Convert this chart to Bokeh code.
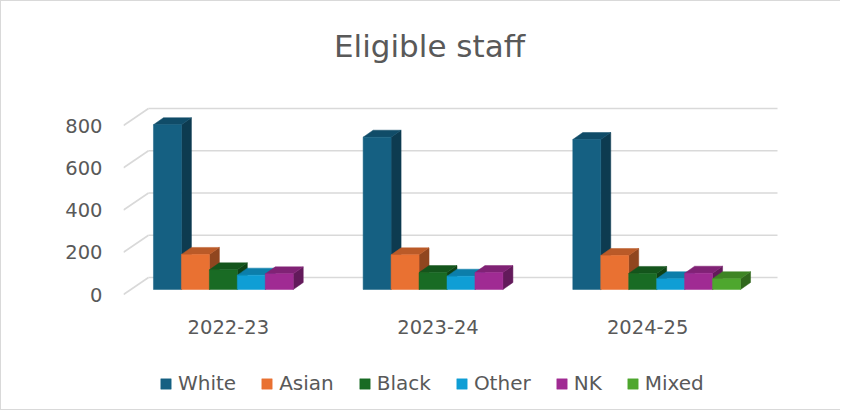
from bokeh.plotting import figure
from bokeh.models import Range1d, FixedTicker, ColumnDataSource, Legend, LegendItem, Label
from bokeh.core.properties import value
from bokeh.embed import file_html
from bokeh.resources import INLINE

# ---- data ----
categories = ["2022-23", "2023-24", "2024-25"]
series = ["White", "Asian", "Black", "Other", "NK", "Mixed"]
white = [780, 721, 710]
asian = [166, 164, 161]
black = [93, 80, 76]
other = [68, 63, 51]
nk = [74, 80, 77]
mixed = [0, 0, 51]
y_ticks = [0, 200, 400, 600, 800]

values = [white, asian, black, other, nk, mixed]
colors = ["#156082", "#E97132", "#196B24", "#0F9ED5", "#A02B93", "#4EA72E"]

# ---- geometry (pixels -> data units) ----
W, H = 840, 410
FRAME_L, FRAME_T, FRAME_BOT = 122, 12, 400
FRAME_W = 660
ZERO_Y = 293                  # pixel row of value 0 (front floor edge)
PX_X = 629 / 3.0              # pixels per category
PX_Y = 169 / 800.0            # pixels per value unit
Y_START = -(FRAME_BOT - ZERO_Y) / PX_Y
Y_END = (ZERO_Y - FRAME_T) / PX_Y
X_END = FRAME_W / PX_X


def ox(px):
    return px / PX_X


def oy(px):
    return px / PX_Y


WALL_DX, WALL_DY = ox(25), oy(17)
FRONT_DX, FRONT_DY = ox(9), oy(5)
BACK_DX, BACK_DY = ox(19), oy(12)

n_series = len(series)
bw = 1.0 / (n_series + 1.5)
gap0 = 0.75 * bw


def shade(hexc, f):
    h = hexc.lstrip("#")
    r, g, b = (int(h[i:i + 2], 16) for i in (0, 2, 4))
    return "#%02x%02x%02x" % (int(r * f), int(g * f), int(b * f))


xs, ys, fills = [], [], []
legend_index = {}
for c in range(len(categories)):
    for s in range(n_series):
        v = values[s][c]
        if v <= 0:
            continue
        x0 = c + gap0 + s * bw
        x1 = x0 + bw
        # side face
        xs.append([x1 + FRONT_DX, x1 + BACK_DX, x1 + BACK_DX, x1 + FRONT_DX])
        ys.append([FRONT_DY, BACK_DY, v + BACK_DY, v + FRONT_DY])
        fills.append(shade(colors[s], 0.62))
        # top face
        xs.append([x0 + FRONT_DX, x1 + FRONT_DX, x1 + BACK_DX, x0 + BACK_DX])
        ys.append([v + FRONT_DY, v + FRONT_DY, v + BACK_DY, v + BACK_DY])
        fills.append(shade(colors[s], 0.8))
        # front face
        xs.append([x0 + FRONT_DX, x1 + FRONT_DX, x1 + FRONT_DX, x0 + FRONT_DX])
        ys.append([FRONT_DY, FRONT_DY, v + FRONT_DY, v + FRONT_DY])
        fills.append(colors[s])
        if s not in legend_index:
            legend_index[s] = len(xs) - 1

p = figure(width=W, height=H, output_backend="svg", toolbar_location=None,
           x_range=Range1d(0, X_END), y_range=Range1d(Y_START, Y_END),
           x_axis_location=None,
           min_border_left=FRAME_L, min_border_right=W - FRAME_L - FRAME_W,
           min_border_top=FRAME_T, min_border_bottom=H - FRAME_BOT)
p.outline_line_color = None
p.xgrid.visible = False
p.ygrid.visible = False
p.styles = {"border-left": "1px solid #d9d9d9", "border-top": "1px solid #d9d9d9",
            "border-bottom": "1px solid #d9d9d9"}

GRID = "#d9d9d9"
# back wall gridlines and side-wall diagonals
p.segment(x0=[WALL_DX] * len(y_ticks), y0=[t + WALL_DY for t in y_ticks],
          x1=[len(categories) + WALL_DX] * len(y_ticks), y1=[t + WALL_DY for t in y_ticks],
          line_color=GRID, line_width=1.6)
p.segment(x0=[0] * len(y_ticks), y0=y_ticks,
          x1=[WALL_DX] * len(y_ticks), y1=[t + WALL_DY for t in y_ticks],
          line_color=GRID, line_width=1.6)

src = ColumnDataSource(dict(xs=xs, ys=ys, fill=fills))
r = p.patches("xs", "ys", source=src, fill_color="fill", line_color="fill", line_width=0.5)

TXT = "#595959"
FONT = "DejaVu Sans"

p.yaxis.ticker = FixedTicker(ticks=y_ticks)
p.yaxis.axis_line_color = None
p.yaxis.major_tick_line_color = None
p.yaxis.minor_tick_line_color = None
p.yaxis.major_tick_out = 0
p.yaxis.major_tick_in = 0
p.yaxis.major_label_standoff = 21
p.yaxis.major_label_text_font = FONT
p.yaxis.major_label_text_font_size = "19.5px"
p.yaxis.major_label_text_color = TXT

# category labels under each group
cat_x = [i + 0.5 for i in range(len(categories))]
p.text(x=cat_x, y=[oy(294 - 326)] * len(categories), text=categories,
       text_align="center", text_baseline="alphabetic",
       text_font=value(FONT), text_font_size=value("19.5px"), text_color=TXT)

title = Label(x=ox(429 - 123), y=oy(294 - 45), text="Eligible staff",
              text_align="center", text_baseline="alphabetic",
              text_font=FONT, text_font_size="31px", text_color=TXT)
p.add_layout(title)

items = [LegendItem(label=series[s], renderers=[r], index=legend_index[s]) for s in range(n_series)]
legend = Legend(items=items, orientation="horizontal", location=(36, 6),
                glyph_width=13, glyph_height=13, label_standoff=6, spacing=24,
                padding=0, margin=0, border_line_color=None, background_fill_alpha=0,
                label_text_font=FONT, label_text_font_size="20px", label_text_color=TXT,
                label_height=20)
p.add_layout(legend, "center")

open("out.html", "w").write(file_html(p, INLINE))
